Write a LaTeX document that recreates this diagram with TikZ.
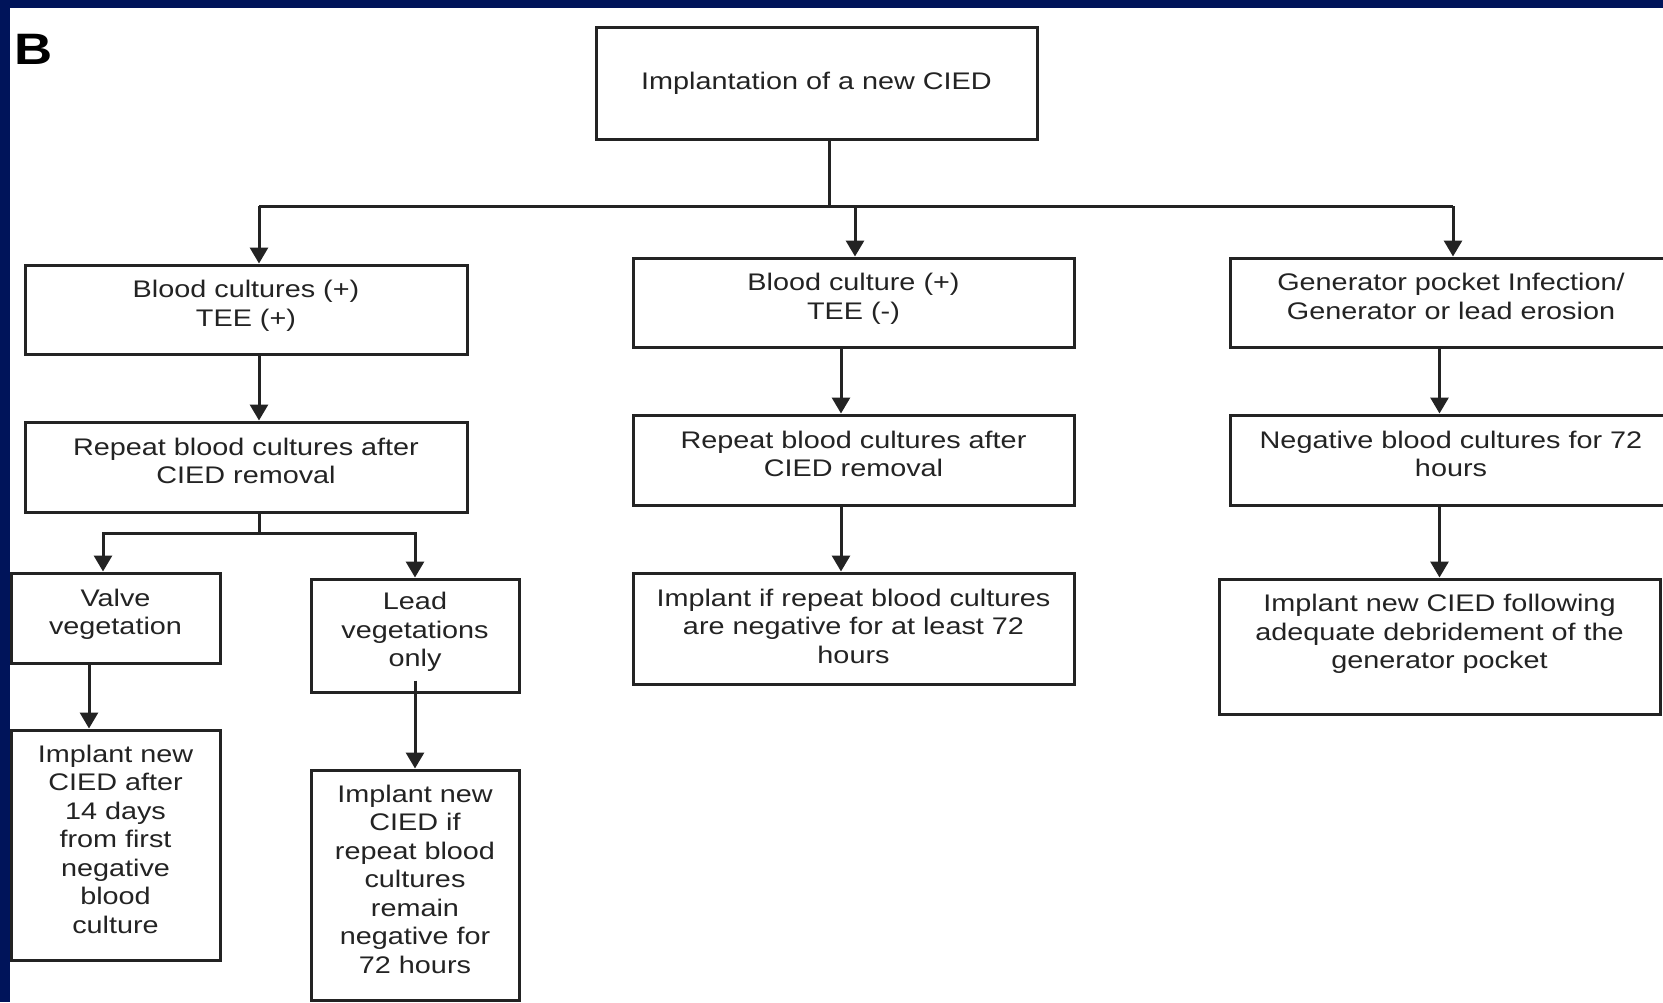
\documentclass[tikz,border=0pt]{standalone}
\usepackage{fontspec}
\setmainfont[FakeStretch=1.2]{Liberation Sans}
\usetikzlibrary{arrows.meta}
\definecolor{bluebg}{RGB}{0,20,90}
\definecolor{ink}{RGB}{35,35,35}
\tikzset{
  basebox/.style={draw=ink, line width=3pt, fill=white, align=center, inner sep=0pt,
    text=ink, font=\fontsize{24}{28.5}\selectfont},
  box/.style={basebox, execute at end node={\rule[-12pt]{0pt}{0pt}}},
  lowbox/.style={basebox, execute at end node={\rule[-30pt]{0pt}{0pt}}},
  midbox/.style={basebox, execute at end node={\rule[-5pt]{0pt}{0pt}}},
  conn/.style={draw=ink, line width=3pt},
  arr/.style={conn, -{Triangle[length=16pt,width=18pt]}}
}
\begin{document}
\begin{tikzpicture}[x=1pt,y=-1pt]
\useasboundingbox (0,0) rectangle (1663,1002);
\fill[bluebg] (0,0) rectangle (1663,1002);
\fill[white] (10,8) rectangle (1663,1002);

\node[anchor=base west, inner sep=0pt, font=\fontsize{44}{44}\bfseries\selectfont] (lblB) at (14,64) {B};

\node[midbox, minimum width=441pt, minimum height=112pt] (top) at (816.5,83) {Implantation of a new CIED};

\node[box, minimum width=442pt, minimum height=89pt] (L1) at (246,309.5) {Blood cultures (+)\\TEE (+)};
\node[box, minimum width=441pt, minimum height=89pt] (M1) at (853.5,302.5) {Blood culture (+)\\TEE (-)};
\node[box, minimum width=442pt, minimum height=89pt] (R1) at (1451,302.5) {Generator pocket Infection/\\Generator or lead erosion};

\node[box, minimum width=442pt, minimum height=90pt] (L2) at (246,467) {Repeat blood cultures after\\CIED removal};
\node[box, minimum width=441pt, minimum height=90pt] (M2) at (853.5,460) {Repeat blood cultures after\\CIED removal};
\node[box, minimum width=442pt, minimum height=90pt] (R2) at (1451,460) {Negative blood cultures for 72\\hours};

\node[box, minimum width=209pt, minimum height=90pt] (L3a) at (115.5,618) {Valve\\vegetation};
\node[box, minimum width=208pt, minimum height=113pt] (L3b) at (415,635.5) {Lead\\vegetations\\only};
\node[midbox, minimum width=441pt, minimum height=111pt] (M3) at (853.5,628.5) {Implant if repeat blood cultures\\are negative for at least 72\\hours};
\node[lowbox, minimum width=441pt, minimum height=135pt] (R3) at (1439.5,646.5) {Implant new CIED following\\adequate debridement of the\\generator pocket};

\node[box, minimum width=209pt, minimum height=230pt] (L4a) at (115.5,845) {Implant new\\CIED after\\14 days\\from first\\negative\\blood\\culture};
\node[box, minimum width=208pt, minimum height=230pt] (L4b) at (415,885) {Implant new\\CIED if\\repeat blood\\cultures\\remain\\negative for\\72 hours};

% top bus
\coordinate (busL) at (259,206);
\coordinate (busR) at (1453,206);
\draw[conn] ([xshift=12.5pt]top.south) -- ([xshift=12.5pt]top.south |- busL);
\draw[conn] (busL) -- (busR);
\draw[arr] (busL) -- (busL |- L1.north);
\draw[arr] ([xshift=1.5pt]M1.north |- busL) -- ([xshift=1.5pt]M1.north);
\draw[arr] (busR) -- (busR |- R1.north);

% left column
\draw[arr] ([xshift=13pt]L1.south) -- ([xshift=13pt]L2.north);
\coordinate (sp) at (259,533);
\draw[conn] ([xshift=13pt]L2.south) -- (sp);
\draw[arr] (sp) -| ([xshift=-12.5pt]L3a.north);
\draw[arr] (sp) -| (L3b.north);
\draw[arr] ([xshift=-26.5pt]L3a.south) -- ([xshift=-26.5pt]L4a.north);
\draw[arr] ([yshift=13pt]L3b.south) -- (L4b.north);

% middle column
\draw[arr] ([xshift=-12.5pt]M1.south) -- ([xshift=-12.5pt]M2.north);
\draw[arr] ([xshift=-12.5pt]M2.south) -- ([xshift=-12.5pt]M3.north);

% right column
\draw[arr] (R3.north |- R1.south) -- (R3.north |- R2.north);
\draw[arr] (R3.north |- R2.south) -- (R3.north);
\end{tikzpicture}
\end{document}
